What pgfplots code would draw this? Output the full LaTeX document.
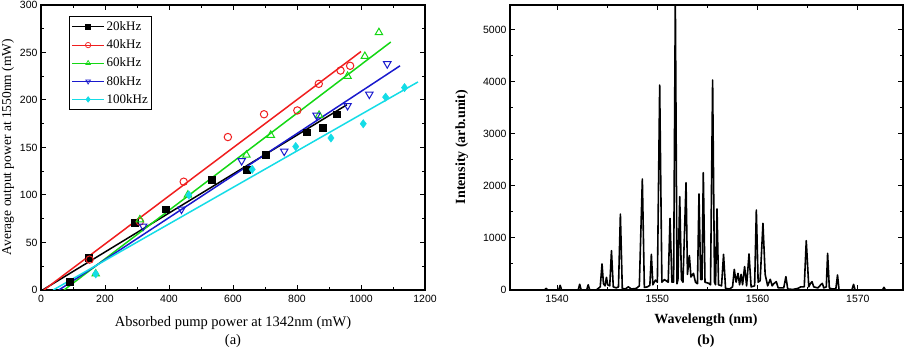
\documentclass[border=0pt]{standalone}
\usepackage{fontspec}
\setmainfont{Liberation Serif}
\setsansfont{Liberation Sans}
\usepackage{pgfplots}
\pgfplotsset{compat=1.18}
\definecolor{cred}{RGB}{240,30,30}
\definecolor{cgreen}{RGB}{20,215,20}
\definecolor{cblue}{RGB}{25,25,205}
\definecolor{ccyan}{RGB}{20,220,230}
\pgfplotsset{
  common/.style={
    scale only axis, anchor=south west,
    axis line style={line width=1.3pt},
    tick style={line width=1pt, black},
    major tick length=5pt, minor tick length=3pt,
    tick align=inside, ticks=both,
    xtick pos=both, ytick pos=both,
    /pgf/number format/assume math mode=true,
    /pgf/number format/set thousands separator={},
    tick label style={font=\sffamily\fontsize{10.5}{11}\selectfont},
  },
}
\begin{document}
\begin{tikzpicture}
\begin{axis}[common,
  at={(41pt,60pt)}, width=384pt, height=285pt,
  xmin=0, xmax=1200, ymin=0, ymax=300,
  xtick={0,200,...,1200}, minor xtick={100,300,...,1100},
  ytick={0,50,...,300}, minor ytick={25,75,...,275},
  xticklabel style={yshift=-2pt},
  legend style={at={(0.073,0.961)}, anchor=north west, draw=black, line width=1.2pt,
    font=\fontsize{13}{13}\selectfont, row sep=3.6pt, inner xsep=2pt, inner ysep=3pt},
  legend cell align=left,
  legend image code/.code={
    \draw[#1, line width=1pt] (0pt,0pt) -- (32pt,0pt);
    \draw[#1, only marks, mark size=2.7pt, line width=0.7pt] plot coordinates {(16pt,0pt)};},
]
\addlegendimage{black, mark=square*, mark options={solid,fill=black}}
\addlegendentry{20kHz}
\addlegendimage{cred, mark=o, mark options={fill=white}}
\addlegendentry{40kHz}
\addlegendimage{cgreen, mark=triangle, mark options={fill=white}}
\addlegendentry{60kHz}
\addlegendimage{cblue, mark=triangle, mark options={rotate=180, fill=white}}
\addlegendentry{80kHz}
\addlegendimage{ccyan, mark=diamond*, mark options={fill=ccyan}}
\addlegendentry{100kHz}
% fit lines
\addplot[black, line width=1.5pt, forget plot] coordinates {(5,0) (956,195)};
\addplot[cred, line width=1.5pt, forget plot] coordinates {(9,0) (1000,251)};
\addplot[cgreen, line width=1.5pt, forget plot] coordinates {(72,0) (1093,261)};
\addplot[cblue, line width=1.5pt, forget plot] coordinates {(56,0) (1122,236)};
\addplot[ccyan, line width=1.5pt, forget plot] coordinates {(38,0) (1178,219)};
% data
\addplot[only marks, mark=square*, mark size=3.4pt, black, fill=black, forget plot] coordinates {
(90,9) (149,34) (293,71) (389,85) (534,116) (642,127) (702,142) (830,166) (880,171) (924,185)};
\addplot[only marks, mark=o, mark size=3.7pt, cred, line width=1pt, forget plot] coordinates {
(152,32) (309,72) (446,114) (584,161) (697,185) (801,189) (868,217) (936,231) (966,236)};
\addplot[only marks, mark=triangle, mark size=4.3pt, cgreen, line width=1pt, forget plot] coordinates {
(171,17) (309,74) (459,100) (642,142) (718,163) (869,184) (958,225) (1012,246) (1056,271)};
\addplot[only marks, mark=triangle, mark options={rotate=180}, mark size=4.3pt, cblue, line width=1pt, forget plot] coordinates {
(319,67) (439,85) (627,136) (760,146) (861,184) (958,194) (1026,206) (1082,238)};
\addplot[only marks, mark=diamond*, mark size=4.2pt, ccyan, fill=ccyan, forget plot] coordinates {
(171,17) (462,100) (660,127) (796,151) (906,160) (1007,175) (1077,203) (1136,213)};
\end{axis}
\begin{axis}[common,
  at={(510pt,60pt)}, width=393pt, height=285pt,
  xmin=1535.3, xmax=1574.5, ymin=0, ymax=5480,
  xtick={1540,1550,1560,1570}, minor xtick={1545,1555,1565},
  ytick={0,1000,...,5000}, minor ytick={500,1500,...,4500},
  xticklabel style={yshift=-2pt},
]
\addplot[black, line width=1.6pt, line join=round] coordinates {
(1535.0,0) (1538.0,0) (1538.75,0) (1538.9,30) (1539.05,0)
(1540.15,0) (1540.3,90) (1540.45,0)
(1542.1,0) (1542.25,110) (1542.4,0)
(1542.95,0) (1543.1,100) (1543.25,0)
(1543.9,0) (1544.3,60) (1544.48,500) (1544.62,120) (1544.78,80) (1544.92,244) (1545.05,100)
(1545.25,80) (1545.42,756) (1545.6,60) (1545.9,40) (1546.12,60) (1546.31,1460) (1546.5,30)
(1546.8,20) (1547.1,60) (1547.4,20) (1547.9,30) (1548.2,80) (1548.5,2135) (1548.7,50)
(1549.0,60) (1549.25,90) (1549.4,686) (1549.55,100) (1549.8,190) (1550.0,150) (1550.23,3940)
(1550.45,150) (1550.7,200) (1550.85,180) (1551.08,150) (1551.26,1378) (1551.45,150)
(1551.62,150) (1551.79,5600) (1551.96,120) (1552.05,200) (1552.23,1795) (1552.4,200)
(1552.55,150) (1552.86,2064) (1553.0,300) (1553.19,660) (1553.35,250) (1553.6,320)
(1553.8,150) (1554.0,120) (1554.15,1846) (1554.32,200) (1554.45,200) (1554.58,2256)
(1554.75,150) (1555.1,130) (1555.3,100) (1555.51,4038) (1555.7,150) (1555.8,100)
(1555.95,1558) (1556.1,100) (1556.4,80) (1556.6,686) (1556.8,30) (1557.2,20) (1557.5,60)
(1557.67,397) (1557.85,150) (1558.04,320) (1558.2,100) (1558.35,300) (1558.5,100)
(1558.7,449) (1558.9,80) (1559.14,692) (1559.35,60) (1559.7,80) (1559.87,1538) (1560.05,150)
(1560.25,180) (1560.53,1282) (1560.75,300) (1561.0,80) (1561.26,205) (1561.45,80)
(1561.6,120) (1561.86,160) (1562.05,40) (1562.6,40) (1562.82,256) (1563.0,20) (1563.5,10)
(1564.0,30) (1564.3,60) (1564.65,60) (1564.85,949) (1565.1,60) (1565.25,120) (1565.42,160)
(1565.6,60) (1566.0,40) (1566.3,100) (1566.45,128) (1566.6,40) (1566.85,60) (1566.98,705)
(1567.15,40) (1567.4,20) (1567.8,20) (1567.97,288) (1568.12,0) (1569.4,0) (1569.57,109)
(1569.72,0) (1572.45,0) (1572.6,51) (1572.75,0) (1575,0)};
\end{axis}
% labels
\node[font=\fontsize{14.5}{15}\selectfont] at (233pt,27pt) {Absorbed pump power at 1342nm (mW)};
\node[font=\fontsize{14.5}{15}\selectfont] at (233pt,9pt) {(a)};
\node[font=\fontsize{13.5}{14}\selectfont, rotate=90, anchor=base] at (11pt,203pt) {Average output power at 1550nm (mW)};
\node[font=\bfseries\fontsize{14}{15}\selectfont] at (706pt,30pt) {Wavelength (nm)};
\node[font=\bfseries\fontsize{14}{15}\selectfont] at (706pt,9pt) {(b)};
\node[font=\bfseries\fontsize{14}{15}\selectfont, rotate=90, anchor=base] at (465pt,203pt) {Intensity (arb.unit)};
\pgfresetboundingbox
\path[use as bounding box] (0,0) rectangle (912pt,350pt);
\end{tikzpicture}
\end{document}
